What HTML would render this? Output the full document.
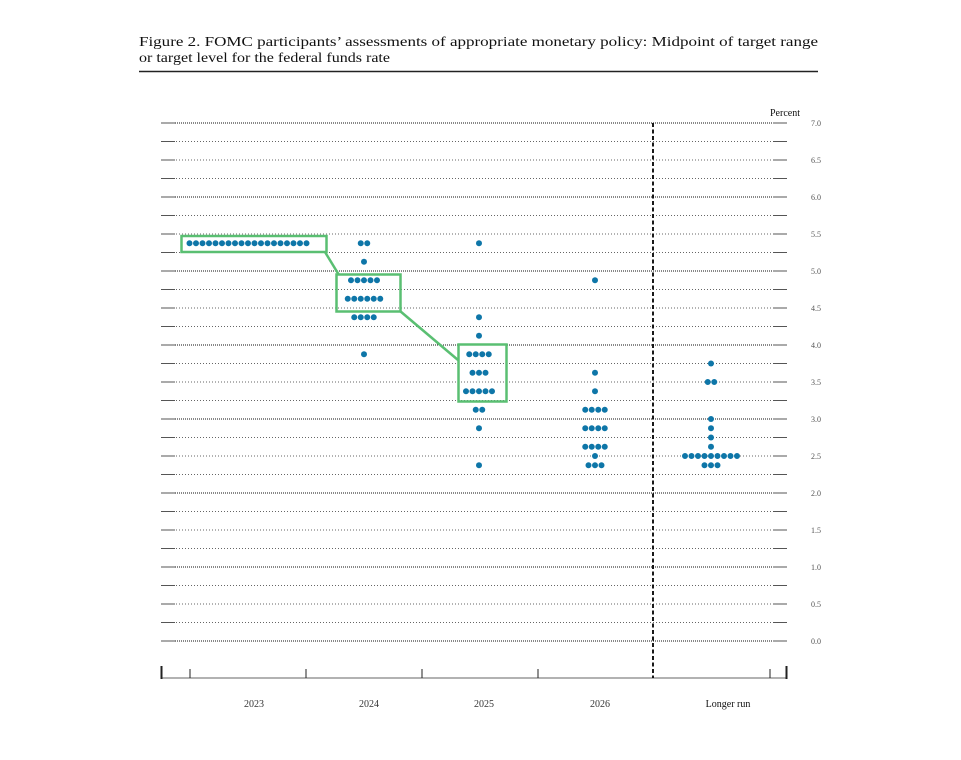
<!DOCTYPE html>
<html><head><meta charset="utf-8"><style>
html,body{margin:0;padding:0;background:#fff;}
svg{display:block;}
</style></head><body>
<svg width="961" height="760" xmlns="http://www.w3.org/2000/svg">
<rect width="961" height="760" fill="#fff"/>
<text x="139" y="46" font-family="Liberation Serif, serif" font-size="13.5" fill="#111" textLength="679" lengthAdjust="spacingAndGlyphs">Figure 2.  FOMC participants’ assessments of appropriate monetary policy:  Midpoint of target range</text>
<text x="139" y="62" font-family="Liberation Serif, serif" font-size="13.5" fill="#111" textLength="251" lengthAdjust="spacingAndGlyphs">or target level for the federal funds rate</text>
<line x1="139" y1="71.5" x2="818" y2="71.5" stroke="#222" stroke-width="1.5"/>

<g stroke="#666" stroke-width="0.9" stroke-dasharray="1 2" fill="none">
<path d="M161 622.5H787M161 604H787M161 585.5H787M161 548.5H787M161 530H787M161 511.5H787M161 474.5H787M161 456H787M161 437.5H787M161 400.5H787M161 382H787M161 363.5H787M161 326.5H787M161 308H787M161 289.5H787M161 252.5H787M161 234H787M161 215.5H787M161 178.5H787M161 160H787M161 141.5H787"/>
</g>
<g stroke="#111" stroke-width="0.9" stroke-dasharray="1 1" fill="none">
<path d="M161 641H787M161 567H787M161 493H787M161 419H787M161 345H787M161 271H787M161 197H787M161 123H787"/>
</g>
<g stroke="#555" stroke-width="0.9" fill="none">
<path d="M161 641H175M161 622.5H175M161 604H175M161 585.5H175M161 567H175M161 548.5H175M161 530H175M161 511.5H175M161 493H175M161 474.5H175M161 456H175M161 437.5H175M161 419H175M161 400.5H175M161 382H175M161 363.5H175M161 345H175M161 326.5H175M161 308H175M161 289.5H175M161 271H175M161 252.5H175M161 234H175M161 215.5H175M161 197H175M161 178.5H175M161 160H175M161 141.5H175M161 123H175"/>
<path d="M773 641H787M773 622.5H787M773 604H787M773 585.5H787M773 567H787M773 548.5H787M773 530H787M773 511.5H787M773 493H787M773 474.5H787M773 456H787M773 437.5H787M773 419H787M773 400.5H787M773 382H787M773 363.5H787M773 345H787M773 326.5H787M773 308H787M773 289.5H787M773 271H787M773 252.5H787M773 234H787M773 215.5H787M773 197H787M773 178.5H787M773 160H787M773 141.5H787M773 123H787"/>
</g>

<g font-family="Liberation Serif, serif" font-size="8" fill="#555">
<text x="811" y="126">7.0</text><text x="811" y="163">6.5</text><text x="811" y="200">6.0</text>
<text x="811" y="237">5.5</text><text x="811" y="274">5.0</text><text x="811" y="311">4.5</text>
<text x="811" y="348">4.0</text><text x="811" y="385">3.5</text><text x="811" y="422">3.0</text>
<text x="811" y="459">2.5</text><text x="811" y="496">2.0</text><text x="811" y="533">1.5</text>
<text x="811" y="570">1.0</text><text x="811" y="607">0.5</text><text x="811" y="644">0.0</text>
</g>
<text x="770" y="116" font-family="Liberation Serif, serif" font-size="10" fill="#111">Percent</text>

<line x1="161" y1="678" x2="787" y2="678" stroke="#666" stroke-width="1"/>
<g stroke="#222">
<line x1="161.5" y1="666" x2="161.5" y2="679" stroke-width="2"/>
<line x1="786.5" y1="666" x2="786.5" y2="679" stroke-width="2"/>
<line x1="190" y1="669" x2="190" y2="678" stroke-width="1"/>
<line x1="306" y1="669" x2="306" y2="678" stroke-width="1"/>
<line x1="422" y1="669" x2="422" y2="678" stroke-width="1"/>
<line x1="538" y1="669" x2="538" y2="678" stroke-width="1"/>
<line x1="770" y1="669" x2="770" y2="678" stroke-width="1"/>
</g>
<line x1="653" y1="123" x2="653" y2="678" stroke="#000" stroke-width="1.8" stroke-dasharray="4 2.5"/>
<g font-family="Liberation Serif, serif" font-size="10" fill="#333" text-anchor="middle">
<text x="254" y="707">2023</text><text x="369" y="707">2024</text><text x="484" y="707">2025</text>
<text x="600" y="707">2026</text><text x="728" y="707" fill="#111">Longer run</text>
</g>

<g stroke="#5abf72" stroke-width="2.5" fill="none">
<rect x="181.5" y="236" width="145" height="16"/>
<rect x="336.5" y="274.5" width="64" height="37"/>
<rect x="458.5" y="344.5" width="48" height="57"/>
<path d="M325 252 L339 275"/>
<path d="M400 311 L458 360"/>
</g>

<g stroke="#0e76a8" stroke-width="6" stroke-linecap="round" stroke-dasharray="0 6.5" fill="none">
<line x1="189.5" y1="243.25" x2="306.6" y2="243.25"/>
<line x1="360.75" y1="243.25" x2="367.35" y2="243.25"/>
<line x1="364" y1="261.75" x2="364.1" y2="261.75"/>
<line x1="351" y1="280.25" x2="377.1" y2="280.25"/>
<line x1="347.75" y1="298.75" x2="380.35" y2="298.75"/>
<line x1="354.25" y1="317.25" x2="373.85" y2="317.25"/>
<line x1="364" y1="354.25" x2="364.1" y2="354.25"/>

<line x1="479" y1="243.25" x2="479.1" y2="243.25"/>
<line x1="479" y1="317.25" x2="479.1" y2="317.25"/>
<line x1="479" y1="335.75" x2="479.1" y2="335.75"/>
<line x1="469.25" y1="354.25" x2="488.85" y2="354.25"/>
<line x1="472.5" y1="372.75" x2="485.6" y2="372.75"/>
<line x1="466" y1="391.25" x2="492.1" y2="391.25"/>
<line x1="475.75" y1="409.75" x2="482.35" y2="409.75"/>
<line x1="479" y1="428.25" x2="479.1" y2="428.25"/>
<line x1="479" y1="465.25" x2="479.1" y2="465.25"/>

<line x1="595" y1="280.25" x2="595.1" y2="280.25"/>
<line x1="595" y1="372.75" x2="595.1" y2="372.75"/>
<line x1="595" y1="391.25" x2="595.1" y2="391.25"/>
<line x1="585.25" y1="409.75" x2="604.85" y2="409.75"/>
<line x1="585.25" y1="428.25" x2="604.85" y2="428.25"/>
<line x1="585.25" y1="446.75" x2="604.85" y2="446.75"/>
<line x1="595" y1="456" x2="595.1" y2="456"/>
<line x1="588.5" y1="465.25" x2="601.6" y2="465.25"/>

<line x1="711" y1="363.5" x2="711.1" y2="363.5"/>
<line x1="707.75" y1="382" x2="714.35" y2="382"/>
<line x1="711" y1="419" x2="711.1" y2="419"/>
<line x1="711" y1="428.25" x2="711.1" y2="428.25"/>
<line x1="711" y1="437.5" x2="711.1" y2="437.5"/>
<line x1="711" y1="446.75" x2="711.1" y2="446.75"/>
<line x1="685" y1="456" x2="737.1" y2="456"/>
<line x1="704.5" y1="465.25" x2="717.6" y2="465.25"/>
</g>
</svg>
</body></html>
